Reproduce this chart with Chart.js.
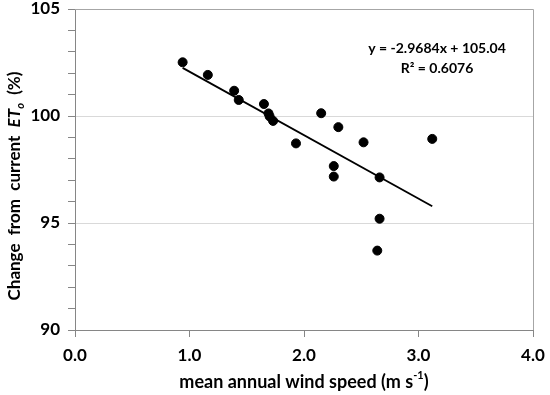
<!DOCTYPE html>
<html><head><meta charset="utf-8">
<script src="https://cdn.jsdelivr.net/npm/chart.js@4/dist/chart.umd.min.js"></script>
<style>html,body{margin:0;padding:0;background:#fff;} #wrap{width:550px;height:395px;position:relative}</style>
</head><body><div id="wrap"><canvas id="c" width="550" height="395"></canvas></div>
<script>
// Data
const windSpeed = [0.94, 1.16, 1.39, 1.43, 1.65, 1.69, 1.70, 1.73, 1.93, 2.15, 2.30, 2.26, 2.26, 2.52, 2.66, 2.66, 2.64, 3.12];
const etoChange = [102.51, 101.92, 101.18, 100.75, 100.56, 100.12, 99.98, 99.77, 98.72, 100.13, 99.48, 97.66, 97.17, 98.77, 97.13, 95.20, 93.71, 98.93];
const trendX = [0.94, 3.12];
const trendY = [102.25, 95.78];
const xTickValues = [0, 1, 2, 3, 4];
const yTickLabels = [90, 95, 100, 105];
const equationText = 'y = -2.9684x + 105.04';
const r2Text = 'R\u00B2 = 0.6076';
const xTitle = ['mean annual wind speed (m s', '-1', ')'];
const yTitle = ['Change  from  current  ', 'ET', 'o', '  (%)'];

const FONT = 'Lato';
const AXIS = '#868686';
const GRID = '#d9d9d9';

const points = windSpeed.map((x, i) => ({x, y: etoChange[i]}));
const trend = trendX.map((x, i) => ({x, y: trendY[i]}));

const overlay = {
  id: 'overlay',
  beforeDatasetsDraw(chart) {
    const {ctx, chartArea: a} = chart;
    ctx.save();
    ctx.strokeStyle = '#a6a6a6';
    ctx.lineWidth = 1;
    ctx.beginPath();
    ctx.moveTo(a.left, a.top + 0.5);
    ctx.lineTo(a.right + 0.5, a.top + 0.5);
    ctx.lineTo(a.right + 0.5, a.bottom);
    ctx.stroke();
    ctx.restore();
  },
  afterDraw(chart) {
    const {ctx, chartArea: a} = chart;
    ctx.save();
    ctx.fillStyle = '#000';
    // equation
    ctx.font = `bold 14px ${FONT}`;
    ctx.textAlign = 'center';
    ctx.textBaseline = 'middle';
    ctx.fillText(equationText, 437, 48);
    ctx.fillText(r2Text, 437, 68);

    // x title
    const cx = (a.left + a.right) / 2;
    ctx.textAlign = 'left';
    const fb = `bold 18px ${FONT}`, fsup = `bold 11px ${FONT}`;
    ctx.font = fb;
    const w0 = ctx.measureText(xTitle[0]).width;
    ctx.font = fsup;
    const w1 = ctx.measureText(xTitle[1]).width;
    ctx.font = fb;
    const w2 = ctx.measureText(xTitle[2]).width;
    let sx = cx - (w0 + w1 + w2) / 2;
    const ty = 382;
    ctx.fillText(xTitle[0], sx, ty); sx += w0;
    ctx.font = fsup;
    ctx.fillText(xTitle[1], sx, ty - 7); sx += w1;
    ctx.font = fb;
    ctx.fillText(xTitle[2], sx, ty);

    // y title (rotated)
    ctx.translate(15, 186);
    ctx.rotate(-Math.PI / 2);
    const f0 = `bold 17px ${FONT}`, fi = `italic bold 17px ${FONT}`, fs = `italic bold 11px ${FONT}`;
    ctx.font = f0; const v0 = ctx.measureText(yTitle[0]).width;
    ctx.font = fi; const v1 = ctx.measureText(yTitle[1]).width;
    ctx.font = fs; const v2 = ctx.measureText(yTitle[2]).width;
    ctx.font = f0; const v3 = ctx.measureText(yTitle[3]).width;
    let px = -(v0 + v1 + v2 + v3) / 2;
    ctx.font = f0; ctx.fillText(yTitle[0], px, 0); px += v0;
    ctx.font = fi; ctx.fillText(yTitle[1], px, 0); px += v1;
    ctx.font = fs; ctx.fillText(yTitle[2], px, 5); px += v2;
    ctx.font = f0; ctx.fillText(yTitle[3], px, 0);
    ctx.restore();
  }
};

new Chart(document.getElementById('c'), {
  type: 'scatter',
  data: {
    datasets: [
      {
        label: 'ETo change',
        data: points,
        backgroundColor: '#000',
        borderColor: '#000',
        pointRadius: 4.5,
        pointHoverRadius: 4.5,
        order: 1
      },
      {
        type: 'line',
        label: 'Linear trend',
        data: trend,
        borderColor: '#000',
        borderWidth: 1.8,
        pointRadius: 0,
        fill: false,
        order: 2
      }
    ]
  },
  options: {
    responsive: false,
    animation: false,
    events: [],
    layout: {padding: {left: 0, right: 17, top: 9, bottom: 0}},
    plugins: {legend: {display: false}, tooltip: {enabled: false}},
    scales: {
      x: {
        type: 'linear', min: 0, max: 4,
        afterBuildTicks: s => { s.ticks = xTickValues.map(v => ({value: v})); },
        ticks: {
          callback: v => Number(v).toFixed(1),
          color: '#000', font: {family: FONT, weight: 'bold', size: 17}, padding: 8, maxRotation: 0
        },
        grid: {drawOnChartArea: false, tickLength: 7, tickColor: AXIS},
        border: {color: AXIS, width: 1},
        afterFit: s => { s.height = 65; s.paddingLeft = 0; s.paddingRight = 0; }
      },
      y: {
        type: 'linear', min: 90, max: 105,
        ticks: {
          stepSize: 1, autoSkip: false,
          callback: v => yTickLabels.includes(v) ? String(v) : '',
          color: '#000', font: {family: FONT, weight: 'bold', size: 17}, padding: 8
        },
        grid: {
          color: c => (c.tick && (c.tick.value === 95 || c.tick.value === 100)) ? GRID : 'rgba(0,0,0,0)',
          tickColor: AXIS, tickLength: 7, lineWidth: 1
        },
        border: {color: AXIS, width: 1},
        afterFit: s => { s.width = 75; s.paddingTop = 0; s.paddingBottom = 0; }
      }
    }
  },
  plugins: [overlay]
});
</script></body></html>
